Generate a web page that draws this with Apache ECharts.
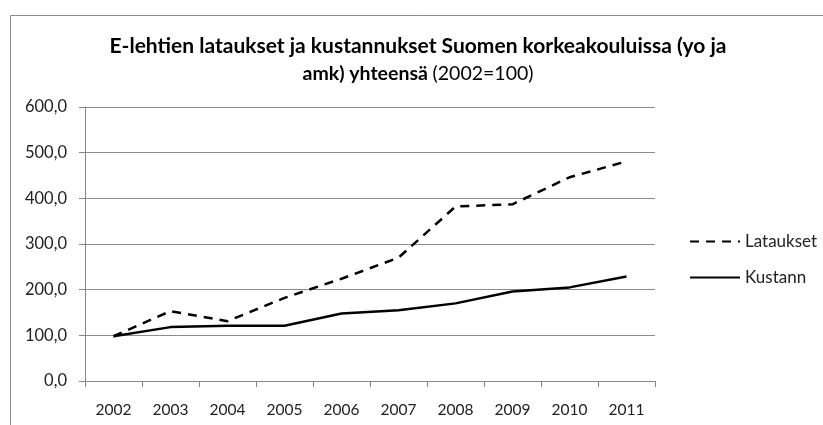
<!DOCTYPE html>
<html><head><meta charset="utf-8">
<script src="https://cdn.jsdelivr.net/npm/echarts@6/dist/echarts.min.js"></script>
<style>html,body{margin:0;padding:0;background:#fff}#c{width:823px;height:425px}</style>
</head><body><div id="c"></div>
<script>
const years = ['2002','2003','2004','2005','2006','2007','2008','2009','2010','2011'];
const lataukset = [98, 153, 131, 182, 224, 270, 382, 387, 446, 481];
const kustann = [98, 118, 121, 121, 148, 155, 170, 196, 205, 229];
const yTicks = [0, 100, 200, 300, 400, 500, 600];

const FONT = 'Lato';
const chart = echarts.init(document.getElementById('c'));
chart.setOption({
  backgroundColor: '#fff',
  animation: false,
  graphic: [{
    type: 'rect', shape: {x: 10.5, y: 15.5, width: 830, height: 430},
    style: {fill: 'none', stroke: '#8c8c8c', lineWidth: 1}, silent: true
  }],
  title: {
    text: '{b|E-lehtien lataukset ja kustannukset Suomen korkeakouluissa (yo ja}\n{b2|amk) yhteensä }{n|(2002=100)}',
    left: 413, textAlign: 'center', top: 27,
    textStyle: {
      rich: {
        b: {fontFamily: FONT, fontWeight: 'bold', fontSize: 21, color: '#000', lineHeight: 28},
        b2: {fontFamily: FONT, fontWeight: 'bold', fontSize: 19.5, color: '#000', lineHeight: 28},
        n: {fontFamily: FONT, fontWeight: 'normal', fontSize: 19.5, color: '#000', lineHeight: 28}
      }
    }
  },
  legend: {
    orient: 'vertical', left: 684, top: 228, itemWidth: 50, itemHeight: 12, itemGap: 19,
    itemStyle: {opacity: 0},
    textStyle: {fontFamily: FONT, fontSize: 17, color: '#222'},
    data: ['Lataukset', 'Kustann']
  },
  grid: {left: 85, right: 168, top: 107, bottom: 44},
  xAxis: {
    type: 'category', data: years, boundaryGap: true,
    axisLine: {lineStyle: {color: '#868686', width: 1}},
    axisTick: {show: true, length: 6, lineStyle: {color: '#868686'}},
    axisLabel: {fontFamily: FONT, fontSize: 15.5, color: '#222', margin: 21}
  },
  yAxis: {
    type: 'value', min: 0, max: 600, interval: 100,
    axisLine: {show: true, lineStyle: {color: '#868686', width: 1}},
    axisTick: {show: true, length: 6, lineStyle: {color: '#868686'}},
    splitLine: {lineStyle: {color: '#8c8c8c', width: 1}},
    axisLabel: {fontFamily: FONT, fontSize: 16.5, color: '#222', margin: 18,
      formatter: v => yTicks.includes(v) ? v.toFixed(1).replace('.', ',') : ''}
  },
  series: [
    {name: 'Lataukset', type: 'line', data: lataukset, symbol: 'none',
     lineStyle: {color: '#000', width: 2.5, type: [9, 7]}, itemStyle: {color: '#000'}},
    {name: 'Kustann', type: 'line', data: kustann, symbol: 'none',
     lineStyle: {color: '#000', width: 2.5, type: 'solid'}, itemStyle: {color: '#000'}}
  ]
});
</script></body></html>
